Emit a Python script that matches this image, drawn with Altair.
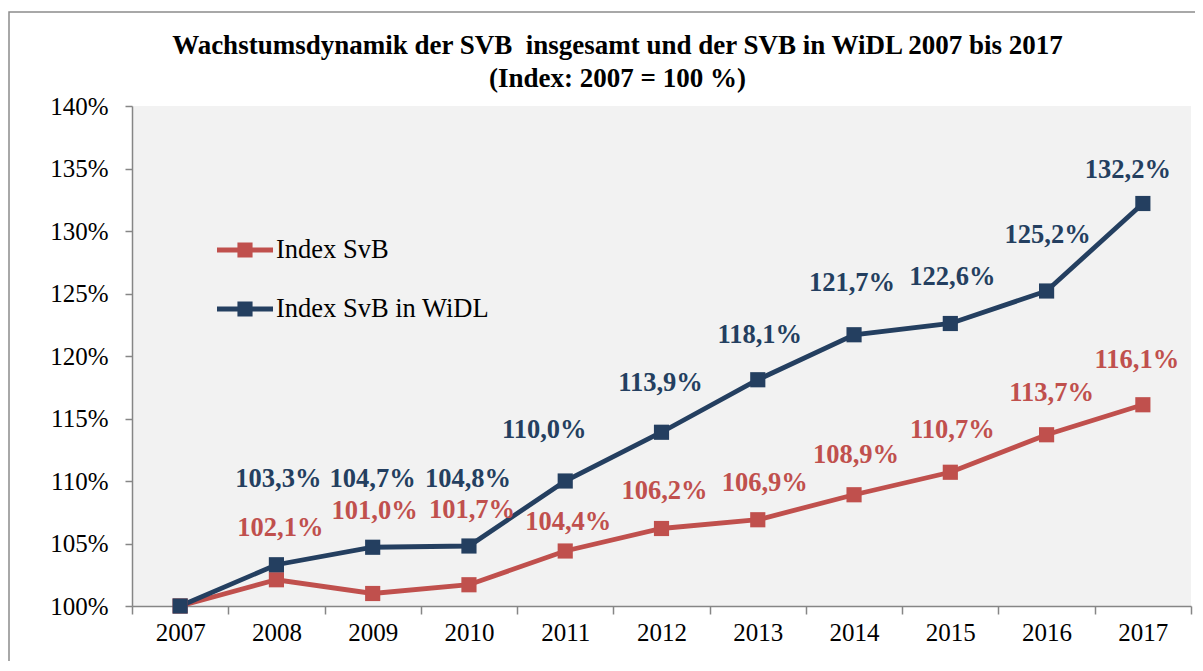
import altair as alt
import pandas as pd

# ---------------- data ----------------
years = ["2007", "2008", "2009", "2010", "2011", "2012", "2013", "2014", "2015", "2016", "2017"]
index_svb = [100.0, 102.1, 101.0, 101.7, 104.4, 106.2, 106.9, 108.9, 110.7, 113.7, 116.1]
index_widl = [100.0, 103.3, 104.7, 104.8, 110.0, 113.9, 118.1, 121.7, 122.6, 125.2, 132.2]
series_names = ["Index SvB", "Index SvB in WiDL"]
series_colors = ["#C0504D", "#243F60"]
y_ticks = [100, 105, 110, 115, 120, 125, 130, 135, 140]
title_lines = [
    "Wachstumsdynamik der SVB\u00a0 insgesamt und der SVB in WiDL 2007 bis 2017",
    "(Index: 2007 = 100 %)",
]

# label placement (dx, dy in px, relative to each point); 2007 is not labelled
svb_label_shift = [None, (4, -52), (2, -83), (3, -75), (3, -29), (3, -38),
                   (7, -37), (2, -40), (2, -42), (5, -42), (-6, -45)]
widl_label_shift = [None, (2, -86), (0, -68), (-1, -67), (-21, -51), (-1, -49),
                    (2, -45), (-2, -52), (2, -47), (1, -56), (-15, -34)]

rows = []
for name, vals in zip(series_names, [index_svb, index_widl]):
    for y, v in zip(years, vals):
        rows.append({"year": y, "value": v, "series": name,
                     "label": f"{v:.1f}".replace(".", ",") + "%"})
df = pd.DataFrame(rows)

FONT = "Liberation Serif"
AXIS_GRAY = "#868686"

x_enc = alt.X(
    "year:O",
    scale=alt.Scale(type="band", paddingInner=0, paddingOuter=0, domain=years),
    bandPosition=0.5,
    axis=alt.Axis(title=None, labelAngle=0, tickBand="extent", tickSize=8,
                  domainColor=AXIS_GRAY, tickColor=AXIS_GRAY, domainWidth=1.5,
                  tickWidth=1.5, labelFont=FONT, labelFontSize=25,
                  labelColor="black", labelPadding=6, grid=False),
)
y_enc = alt.Y(
    "value:Q",
    scale=alt.Scale(domain=[100, 140], nice=False, zero=False),
    axis=alt.Axis(title=None, values=y_ticks, labelExpr="datum.value + '%'",
                  tickSize=7, domainColor=AXIS_GRAY, tickColor=AXIS_GRAY,
                  domainWidth=1.5, tickWidth=1.5, labelFont=FONT,
                  labelFontSize=25, labelColor="black", labelPadding=17,
                  grid=False),
)
color_scale = alt.Scale(domain=series_names, range=series_colors)

LEGEND_PATH = "M-1,-0.09H1V0.09H-1Z M-0.27,-0.27H0.27V0.27H-0.27Z"
legend = alt.Legend(
    title=None, orient="none", legendX=85, legendY=116, direction="vertical",
    symbolType=LEGEND_PATH, symbolSize=3136, symbolStrokeWidth=0,
    symbolFillColor="#000000",
    labelFont=FONT, labelFontSize=26.5, labelColor="black", labelOffset=3,
    rowPadding=17, padding=0, labelLimit=400)

base = alt.Chart(df)

lines = base.mark_line(strokeWidth=4.8).encode(
    x=x_enc, y=y_enc,
    color=alt.Color("series:N", scale=color_scale, legend=legend),
    order=alt.Order("year:O"),
)
points = base.mark_point(shape="square", filled=True, size=230, opacity=1).encode(
    x=x_enc, y=y_enc,
    color=alt.Color("series:N", scale=color_scale, legend=legend),
)

label_layers = []
for name, color, shifts in zip(series_names, series_colors, [svb_label_shift, widl_label_shift]):
    for yr, sh in zip(years, shifts):
        if sh is None:
            continue
        label_layers.append(
            base.transform_filter(
                (alt.datum.series == name) & (alt.datum.year == yr)
            ).mark_text(dx=sh[0], dy=sh[1], font=FONT, fontSize=26.5,
                        fontWeight="bold", color=color, baseline="middle",
                        align="center").encode(x=x_enc, y=y_enc, text="label:N")
        )

frame = alt.Chart(pd.DataFrame({"a": [0]})).mark_rect(
    fill="transparent", stroke="#8C8C8C", strokeWidth=1.5
).encode(x=alt.value(-123), x2=alt.value(1100), y=alt.value(-94), y2=alt.value(620))

chart = alt.layer(frame, lines, points, *label_layers).properties(
    width=1059,
    height=500,
    autosize=alt.AutoSizeParams(type="none"),
    padding={"left": 124, "top": 98, "right": 4, "bottom": 55},
    title=alt.TitleParams(text=title_lines, font=FONT, fontSize=27,
                          fontWeight="bold", color="black", anchor="middle",
                          frame="group", dx=-44, dy=96, offset=14, lineHeight=33),
).configure_view(strokeWidth=0, fill="#F2F2F2")

chart.save("out.html", embed_options={"renderer": "svg", "actions": False})
